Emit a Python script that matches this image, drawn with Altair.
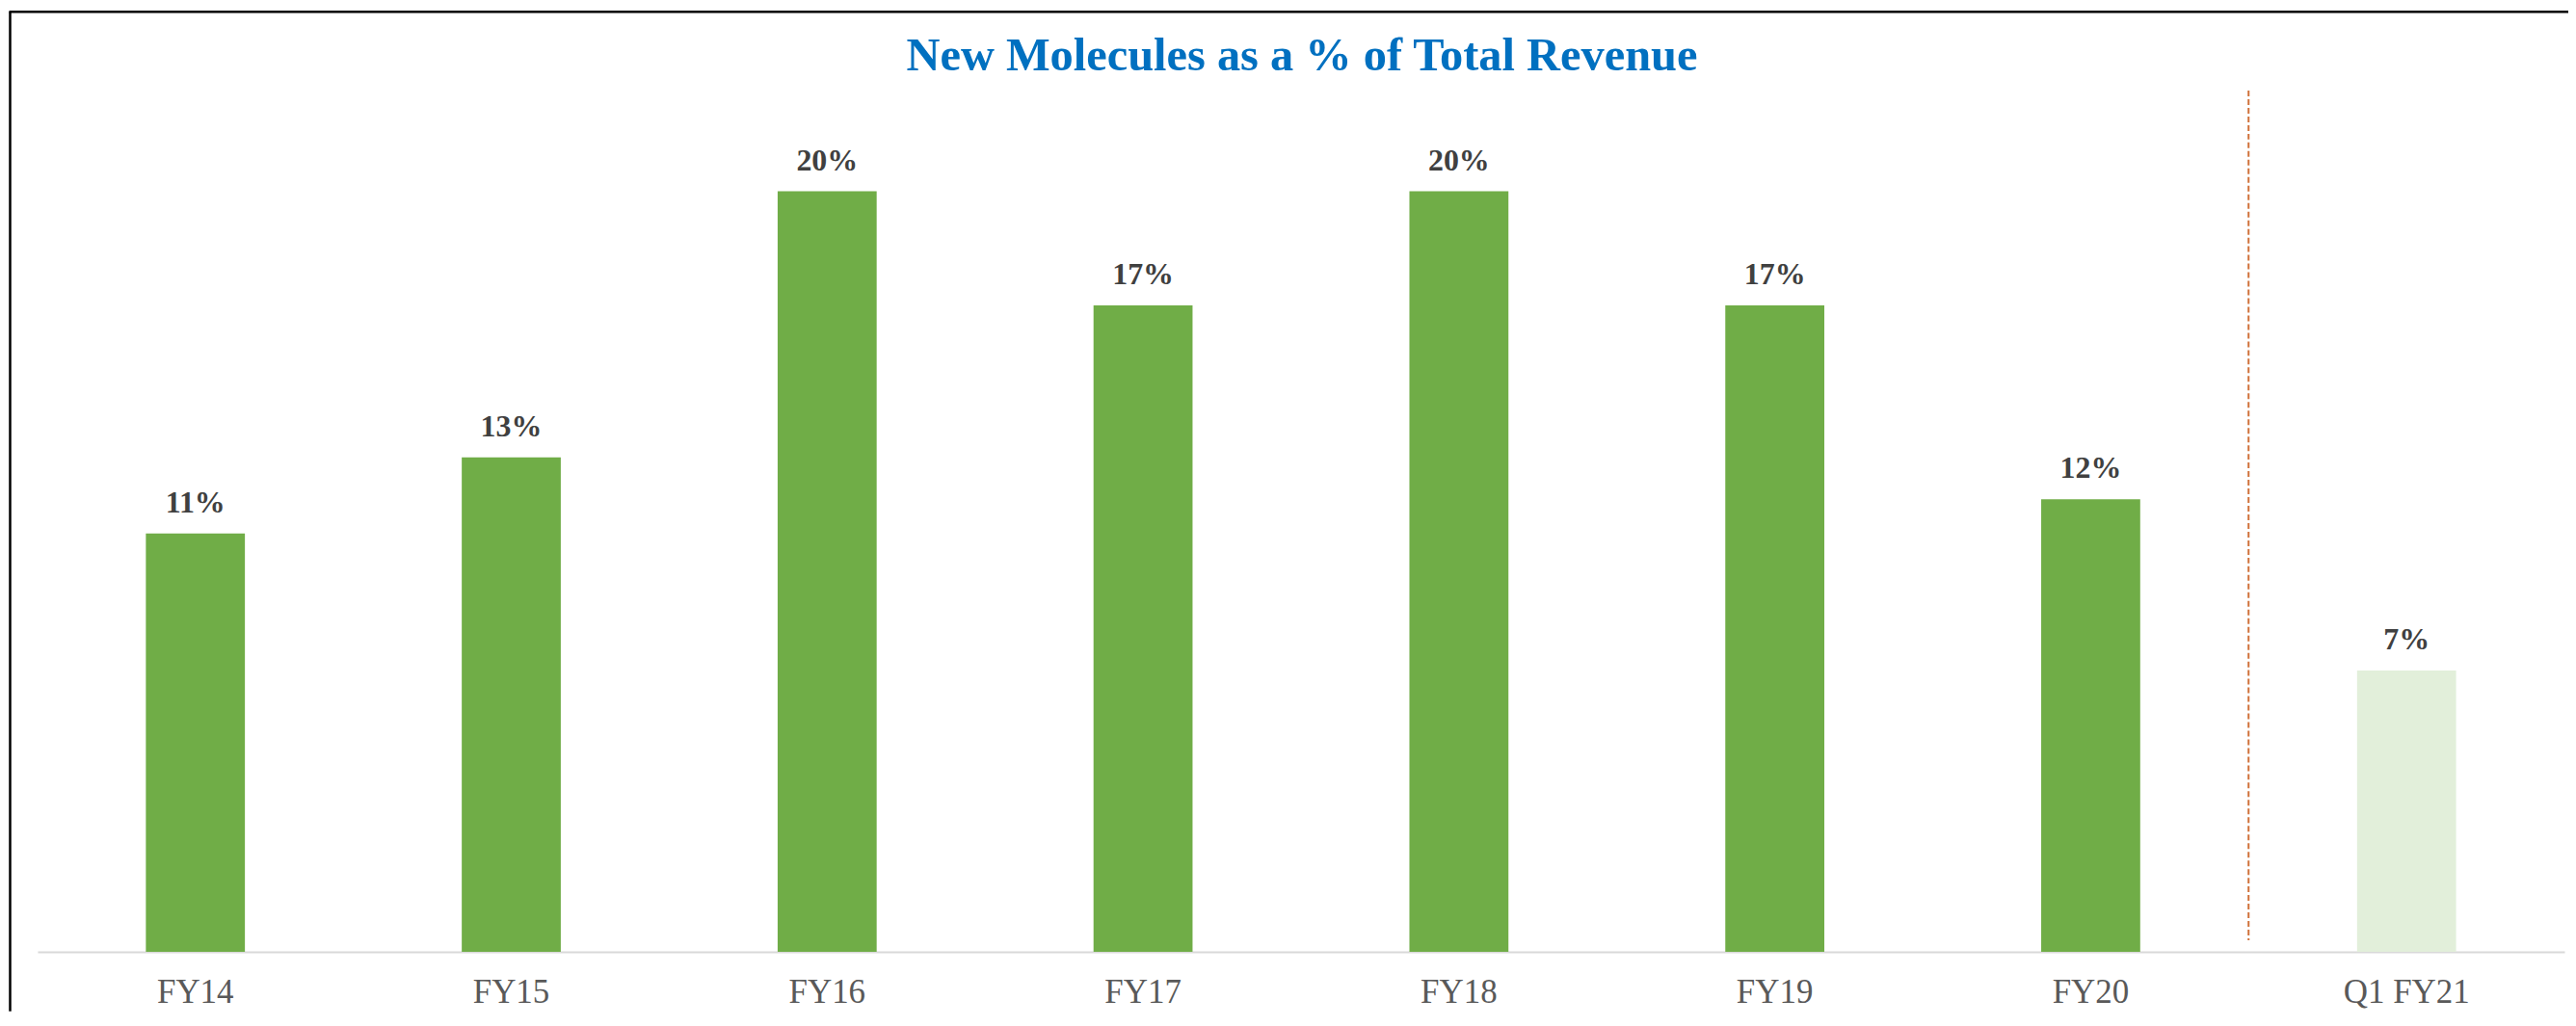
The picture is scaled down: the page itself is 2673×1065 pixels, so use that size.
import altair as alt
import pandas as pd

categories = ["FY14", "FY15", "FY16", "FY17", "FY18", "FY19", "FY20", "Q1 FY21"]
values = [0.110, 0.130, 0.200, 0.170, 0.200, 0.170, 0.119, 0.074]
kinds = ["Annual", "Annual", "Annual", "Annual", "Annual", "Annual", "Annual", "Quarter"]
title_text = ["New Molecules as a % of Total Revenue"]

W, H = 2628, 896
PAD = {"left": 31, "top": 85, "right": 4, "bottom": 62}
STEP = W / len(categories)

df = pd.DataFrame({"cat": categories, "val": values, "kind": kinds})

xscale = alt.Scale(domain=categories, paddingInner=0.6865, paddingOuter=0.343)
yscale = alt.Scale(domain=[0, 0.2265])

base = alt.Chart(df).encode(
    x=alt.X("cat:N", scale=xscale, sort=categories, title=None,
            axis=alt.Axis(labelAngle=0, ticks=False, domainColor="#D9D9D9",
                          domainWidth=2, labelFont="Liberation Serif",
                          labelFontSize=35, labelColor="#595959",
                          labelPadding=25, grid=False)),
    y=alt.Y("val:Q", scale=yscale, axis=None),
)

bars = base.mark_bar().encode(
    color=alt.Color("kind:N", scale=alt.Scale(domain=["Annual", "Quarter"],
                                              range=["#70AD47", "#E2EFDA"]),
                    legend=None)
)

labels = base.mark_text(baseline="alphabetic", dy=-22, font="Liberation Serif",
                        fontSize=32, fontWeight="bold", color="#404040").encode(
    text=alt.Text("val:Q", format=".0%")
)

one = pd.DataFrame({"a": [0]})
sep = alt.Chart(one).mark_rule(color="#D0713A", strokeWidth=2, strokeDash=[6, 3]).encode(
    x=alt.value(7 * STEP),
    y=alt.value(0),
    y2=alt.value(H - 12),
)

title = alt.Chart(pd.DataFrame({"t": title_text})).mark_text(
    font="Liberation Serif", fontSize=48.5, fontWeight="bold", color="#0070C0",
    align="center", baseline="alphabetic").encode(
    text="t:N", x=alt.value(W / 2 + 1), y=alt.value(-21))

border_left = alt.Chart(one).mark_rule(color="black", strokeWidth=2.5).encode(
    x=alt.value(-PAD["left"] + 2.5), y=alt.value(-PAD["top"] + 3),
    y2=alt.value(H + PAD["bottom"]))
border_top = alt.Chart(one).mark_rule(color="black", strokeWidth=2.5).encode(
    x=alt.value(-PAD["left"] + 1.5), x2=alt.value(W + PAD["right"]),
    y=alt.value(-PAD["top"] + 3))

chart = alt.layer(bars, labels, sep, title, border_left, border_top).properties(
    width=W, height=H,
    autosize=alt.AutoSizeParams(type="none"),
    padding=PAD,
).configure(background="white").configure_view(stroke=None)

chart.save("out.html", embed_options={"renderer": "svg", "actions": False})
